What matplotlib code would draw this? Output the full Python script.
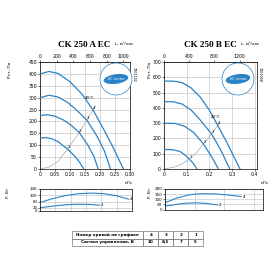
import matplotlib
matplotlib.use("Agg")
import matplotlib.pyplot as plt
import matplotlib.patches as mpatches
import numpy as np

plt.rcParams.update({
    "font.family": "DejaVu Sans",
    "font.size": 3.5,
    "axes.linewidth": 0.5,
    "xtick.major.size": 1.2,
    "ytick.major.size": 1.2,
    "xtick.major.width": 0.4,
    "ytick.major.width": 0.4,
    "xtick.major.pad": 1.0,
    "ytick.major.pad": 1.0,
    "xtick.labelsize": 3.3,
    "ytick.labelsize": 3.3,
})

BLUE = "#2b83c6"
GRAY = "#a8a8a8"
GRID = "#c9c9c9"

# ---- CK 250 A EC: pressure curves (x in m3/s, y in Pa)
a_x4 = [0, 0.03, 0.06, 0.10, 0.14, 0.177, 0.21, 0.24, 0.278]
a_y4 = [400, 410, 402, 367, 315, 248, 172, 100, 0]
a_x3 = [0, 0.03, 0.06, 0.09, 0.12, 0.156, 0.19, 0.215, 0.235]
a_y3 = [300, 310, 303, 282, 250, 206, 138, 75, 0]
a_x2 = [0, 0.025, 0.05, 0.08, 0.105, 0.131, 0.16, 0.18, 0.194]
a_y2 = [225, 228, 222, 205, 183, 153, 100, 52, 0]
a_x1 = [0, 0.02, 0.04, 0.06, 0.092, 0.115, 0.13, 0.146]
a_y1 = [130, 132, 127, 115, 84, 55, 32, 0]
a_gx = [0, 0.03, 0.06, 0.092, 0.131, 0.156, 0.177, 0.185]
a_gy = [0, 8, 32, 84, 153, 206, 248, 265]
a_pts = [(0.092, 84, "1"), (0.131, 153, "2"), (0.156, 206, "3"), (0.177, 248, "4")]

# CK 250 A EC: power (W)
a_px4 = [0, 0.04, 0.08, 0.12, 0.167, 0.21, 0.25, 0.289]
a_py4 = [54, 78, 97, 109, 114, 110, 97, 75]
a_px3 = [0, 0.04, 0.08, 0.12, 0.16, 0.194]
a_py3 = [21, 31, 39, 43, 42, 37]

# ---- CK 250 B EC
b_x4 = [0, 0.04, 0.08, 0.12, 0.16, 0.20, 0.237, 0.28, 0.335]
b_y4 = [575, 575, 565, 530, 470, 385, 285, 165, 0]
b_x3 = [0, 0.04, 0.08, 0.12, 0.16, 0.21, 0.25, 0.29]
b_y3 = [440, 440, 425, 385, 320, 229, 125, 0]
b_x2 = [0, 0.05, 0.09, 0.13, 0.174, 0.21, 0.24]
b_y2 = [300, 298, 280, 240, 164, 80, 0]
b_x1 = [0, 0.04, 0.07, 0.09, 0.112, 0.13, 0.145]
b_y1 = [128, 126, 115, 95, 64, 35, 0]
b_gx = [0, 0.05, 0.08, 0.112, 0.14, 0.174, 0.21, 0.237, 0.245]
b_gy = [0, 14, 34, 64, 102, 164, 229, 285, 305]
b_pts = [(0.112, 64, "1"), (0.174, 164, "2"), (0.21, 229, "3"), (0.237, 285, "4")]

b_px4 = [0, 0.05, 0.10, 0.14, 0.18, 0.22, 0.27, 0.334]
b_py4 = [66, 110, 140, 152, 154, 152, 143, 126]
b_px2 = [0, 0.05, 0.09, 0.13, 0.18, 0.23]
b_py2 = [33, 50, 60, 65, 60, 45]

table_rows = [["Номер кривой на графике", "4", "3", "2", "1"],
              ["Сигнал управления, В", "10", "8,5", "7", "5"]]

W = H = 280.0


def rect(x0, y0, x1, y1):
    return [x0 / W, 1 - y1 / H, (x1 - x0) / W, (y1 - y0) / H]


def dec(v, nd):
    return "0" if v == 0 else f"{v:.{nd}f}".replace(".", ",")


def ec_logo(fig, cx, cy, r):
    c = mpatches.Circle((cx / W, 1 - cy / H), r / W, transform=fig.transFigure,
                        facecolor="white", edgecolor=BLUE, linewidth=0.5, zorder=5)
    fig.add_artist(c)
    e = mpatches.Ellipse((cx / W, 1 - cy / H), 1.55 * r / W, 0.6 * r / H,
                         angle=8, transform=fig.transFigure, facecolor=BLUE,
                         edgecolor="none", zorder=6)
    fig.add_artist(e)
    fig.text(cx / W, 1 - cy / H, "EC motor", color="white", fontsize=2.6,
             ha="center", va="center", zorder=7, style="italic")


def main_chart(fig, box, xmax, xticks, nd, ymax, ystep, topticks, curves, gx, gy, pts,
               label40):
    ax = fig.add_axes(box)
    for xs, ys in curves:
        ax.plot(xs, ys, color=BLUE, linewidth=0.9, zorder=3)
    ax.plot(gx, gy, color=GRAY, linewidth=0.5, zorder=2)
    for px, py, t in pts:
        ax.text(px + xmax * 0.012, py, t, fontsize=2.8, ha="center",
                va="bottom", zorder=4)
    ax.text(label40[0], label40[1], "40°C", fontsize=2.8, ha="center",
            va="bottom", zorder=4)
    ax.set_xlim(0, xmax)
    ax.set_ylim(0, ymax)
    ax.set_xticks(xticks)
    ax.set_xticklabels([dec(v, nd) for v in xticks])
    ax.set_yticks(np.arange(0, ymax + 1, ystep))
    ax.grid(color=GRID, linewidth=0.5, zorder=0)
    ax.set_axisbelow(True)
    top = ax.secondary_xaxis("top", functions=(lambda v: v * 3600, lambda v: v / 3600))
    top.set_xticks(topticks)
    top.tick_params(labelsize=3.3, length=1.2, pad=1)
    return ax


def power_chart(fig, box, xmax, xticks, ymax, yticks, curves, fs):
    ax = fig.add_axes(box)
    for xs, ys, t in curves:
        ax.plot(xs, ys, color=BLUE, linewidth=0.8)
        ax.text(xs[-1] + xmax * 0.012, ys[-1], t, fontsize=2.8, va="center")
    ax.set_xlim(0, xmax)
    ax.set_ylim(0, ymax)
    ax.set_xticks(xticks)
    ax.set_xticklabels([])
    ax.tick_params(axis="x", length=0)
    ax.set_yticks(yticks)
    ax.tick_params(axis="y", labelsize=fs, pad=0.8)
    ax.grid(color=GRID, linewidth=0.5)
    ax.set_axisbelow(True)
    return ax


fig = plt.figure(figsize=(2.8, 2.8), dpi=100)

# left
main_chart(fig, rect(40, 62, 130, 169), 0.3,
           [0, 0.05, 0.10, 0.15, 0.20, 0.25, 0.30], 2, 450, 50,
           [0, 200, 400, 600, 800, 1000],
           [(a_x4, a_y4), (a_x3, a_y3), (a_x2, a_y2), (a_x1, a_y1)],
           a_gx, a_gy, a_pts, (0.165, 292))
power_chart(fig, rect(40, 189, 132, 211), 0.3, [0, 0.05, 0.10, 0.15, 0.20, 0.25, 0.30],
            140, [0, 20, 60, 100, 140],
            [(a_px4, a_py4, "4"), (a_px3, a_py3, "3")], 2.8)

# right
main_chart(fig, rect(164, 62, 257, 169), 0.41, [0, 0.1, 0.2, 0.3, 0.4], 1, 700, 100,
           [0, 400, 800, 1200],
           [(b_x4, b_y4), (b_x3, b_y3), (b_x2, b_y2), (b_x1, b_y1)],
           b_gx, b_gy, b_pts, (0.228, 325))
power_chart(fig, rect(165, 189, 263, 209.5), 0.43, [0, 0.13, 0.26, 0.39],
            200, [0, 50, 100, 150, 200],
            [(b_px4, b_py4, "4"), (b_px2, b_py2, "2")], 3.0)

# titles and labels
for cx, title in [(84, "CK 250 A EC"), (210, "CK 250 B EC")]:
    fig.text(cx / W, 1 - 45 / H, title, family="Liberation Serif", fontweight="bold",
             fontsize=6.6, ha="center", va="center")
for x, t in [(124, "L, м³/час"), (250, "L, м³/час")]:
    fig.text(x / W, 1 - 44 / H, t, fontsize=3.0, ha="center", va="center")
for x in (10, 150):
    fig.text(x / W, 1 - 70 / H, "Pст, Па", fontsize=3.2, rotation=90,
             ha="center", va="center")
for x in (8, 150):
    fig.text(x / W, 1 - 193 / H, "P, Вт", fontsize=3.0, rotation=90,
             ha="center", va="center")
for x in (129, 265):
    fig.text(x / W, 1 - 183 / H, "м³/с", fontsize=3.0, ha="center", va="center")
fig.text(134 / W, 1 - 74 / H, "7001102", fontsize=2.4, rotation=-90,
         ha="center", va="center")
fig.text(260 / W, 1 - 74 / H, "7001048", fontsize=2.4, rotation=-90,
         ha="center", va="center")

ec_logo(fig, 116, 79, 16)
ec_logo(fig, 238, 79, 16)

# table
tab = fig.add_axes(rect(72, 231, 203, 246))
tab.axis("off")
t = tab.table(cellText=table_rows, colWidths=[0.545, 0.114, 0.114, 0.114, 0.113],
              cellLoc="center", bbox=[0, 0, 1, 1])
t.auto_set_font_size(False)
for (r, c), cell in t.get_celld().items():
    cell.set_linewidth(0.4)
    cell.set_edgecolor("#555555")
    cell.get_text().set_fontsize(3.0)
    cell.get_text().set_fontweight("bold")

fig.savefig("out.png", dpi=100)
